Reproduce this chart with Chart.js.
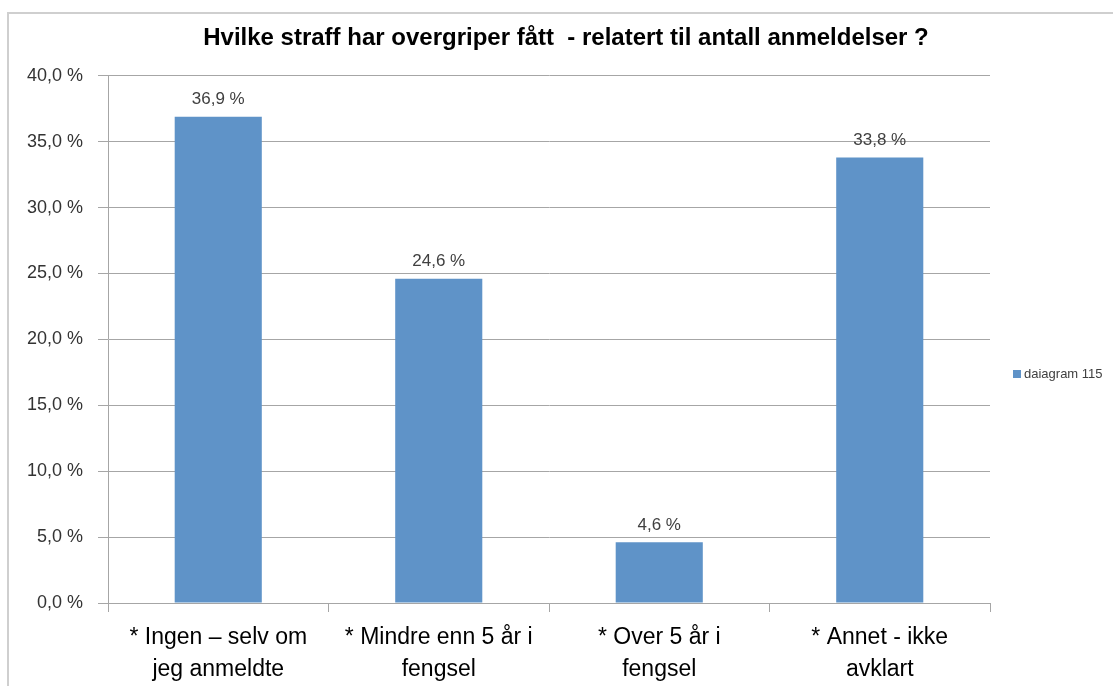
<!DOCTYPE html>
<html>
<head>
<meta charset="utf-8">
<script src="https://cdn.jsdelivr.net/npm/chart.js@4"></script>
<style>
  body { margin: 0; background: #fff; }
  #wrap { position: relative; width: 1113px; height: 686px; overflow: hidden; }
  #frame { position: absolute; left: 7px; top: 12px; width: 1200px; height: 800px;
           border-left: 2px solid #cfcfcf; border-top: 2px solid #cfcfcf; }
  canvas { position: absolute; left: 0; top: 0; }
  #legend { position: absolute; left: 1013px; top: 366px; font: 13px "Liberation Sans", sans-serif; color: #404040; }
  #legend span { display: inline-block; width: 8px; height: 8px; background: #5f93c8; margin-right: 3px; }
</style>
</head>
<body>
<div id="wrap">
  <div id="frame"></div>
  <canvas id="chart" width="1113" height="686"></canvas>
  <div id="legend"><span></span>daiagram 115</div>
</div>
<script>
const categories = [
    ['* Ingen \u2013 selv om', 'jeg anmeldte'],
    ['* Mindre enn 5 år i', 'fengsel'],
    ['* Over 5 år i', 'fengsel'],
    ['* Annet - ikke', 'avklart']
];
const values = [36.9, 24.6, 4.6, 33.8];
const seriesName = 'daiagram 115';
const titleText = 'Hvilke straff har overgriper fått  - relatert til antall anmeldelser ?';

const fontFam = '"Liberation Sans", sans-serif';
const pct = v => v.toFixed(1).replace('.', ',') + ' %';

// labels over the bars
const barLabels = {
    id: 'barLabels',
    afterDatasetsDraw(chart) {
        const ctx = chart.ctx;
        const meta = chart.getDatasetMeta(0);
        ctx.save();
        ctx.font = '17px ' + fontFam;
        ctx.fillStyle = '#404040';
        ctx.textAlign = 'center';
        ctx.textBaseline = 'middle';
        meta.data.forEach((bar, i) => {
            ctx.fillText(pct(values[i]), bar.x, bar.y - 17);
        });
        ctx.restore();
    }
};

new Chart(document.getElementById('chart'), {
    type: 'bar',
    data: {
        labels: categories,
        datasets: [{
            label: seriesName,
            data: values,
            backgroundColor: '#5f93c8',
            barPercentage: 0.395,
            categoryPercentage: 1
        }]
    },
    options: {
        responsive: false,
        animation: false,
        layout: { padding: { left: 19, right: 0, top: 14, bottom: 0 } },
        plugins: {
            legend: { display: false },
            tooltip: { enabled: false },
            title: {
                display: true,
                text: titleText,
                color: '#000',
                font: { family: fontFam, size: 24, weight: 'bold' },
                padding: { top: 10, bottom: 23 }
            }
        },
        scales: {
            x: {
                grid: { drawOnChartArea: false, tickLength: 9, color: '#a6a6a6' },
                border: { color: '#a6a6a6' },
                ticks: {
                    color: '#000',
                    padding: 10,
                    maxRotation: 0,
                    font: { family: fontFam, size: 23, lineHeight: 1.39 }
                },
                afterFit: s => { s.height = 83; }
            },
            y: {
                min: 0,
                max: 40,
                ticks: {
                    stepSize: 5,
                    color: '#333',
                    padding: 15,
                    font: { family: fontFam, size: 18 },
                    callback: v => pct(v)
                },
                grid: { color: '#a6a6a6', tickLength: 10 },
                border: { color: '#a6a6a6' },
                afterFit: s => { s.width = 89; }
            },
            // empty space on the right where the legend sits
            side: {
                position: 'right',
                ticks: { display: false },
                grid: { display: false },
                border: { display: false },
                afterFit: s => { s.width = 123; }
            }
        }
    },
    plugins: [barLabels]
});
</script>
</body>
</html>
